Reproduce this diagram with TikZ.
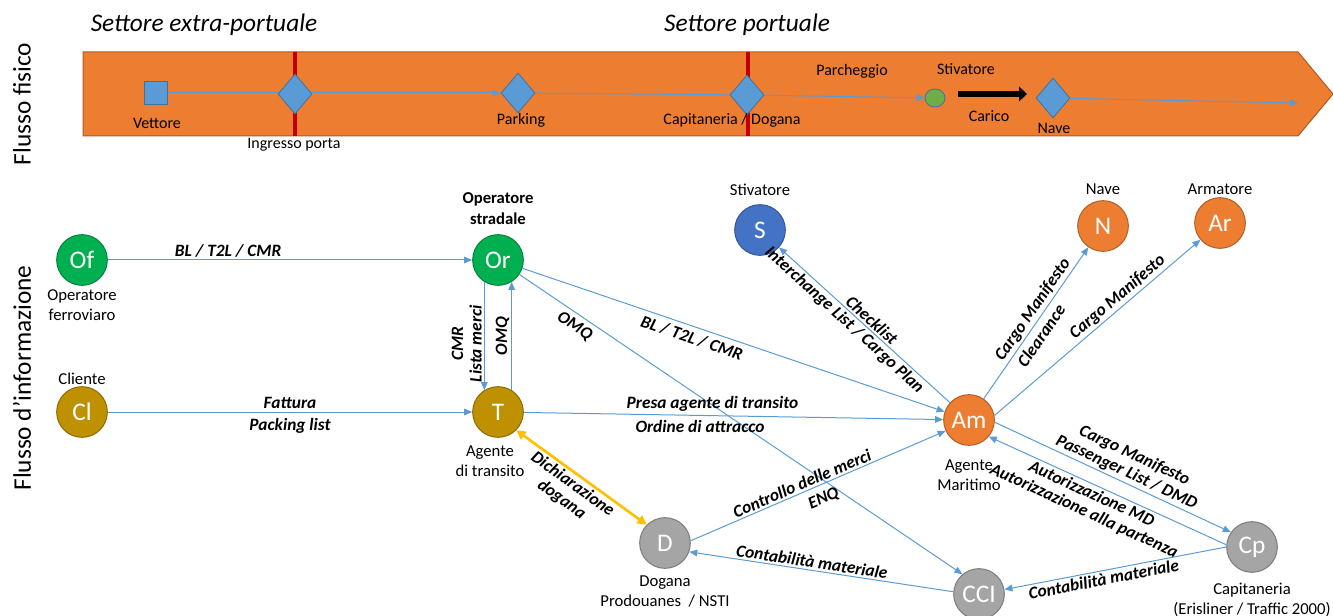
\documentclass[tikz,border=0pt]{standalone}
\usepackage{fontspec}
\setmainfont{Carlito}
\usetikzlibrary{arrows.meta,positioning,shapes.geometric}

\definecolor{arancio}{RGB}{237,125,49}
\definecolor{arancioscuro}{RGB}{174,90,33}
\definecolor{azzurro}{RGB}{91,155,213}
\definecolor{azzurroscuro}{RGB}{65,113,156}
\definecolor{rosso}{RGB}{192,0,0}
\definecolor{verdechiaro}{RGB}{112,173,71}
\definecolor{verde}{RGB}{0,176,80}
\definecolor{ocra}{RGB}{191,144,0}
\definecolor{blu}{RGB}{68,114,196}
\definecolor{grigio}{RGB}{165,165,165}
\definecolor{giallo}{RGB}{255,192,0}

\tikzset{
  attore/.style={circle, minimum size=38pt, inner sep=0pt, line width=0.75pt,
    draw=#1!75!black, fill=#1, text=white, font=\fontsize{19}{19}\selectfont},
  rombo/.style={diamond, minimum width=25.5pt, minimum height=30pt, inner sep=0pt,
    draw=azzurroscuro, fill=azzurro, line width=0.6pt},
  flusso/.style={draw=azzurro, line width=0.75pt, -{Triangle[length=6pt,width=5pt]}},
  fisico/.style={draw=azzurro, line width=0.75pt},
  doganale/.style={draw=giallo, line width=2pt,
    {Triangle[length=7pt,width=7pt]}-{Triangle[length=7pt,width=7pt]}},
  etichetta/.style={font=\fontsize{13}{14}\selectfont\bfseries\itshape, inner sep=1.5pt, align=center},
  didascalia/.style={font=\fontsize{12.5}{15}\selectfont, inner sep=1pt, align=center},
  banda/.style={font=\fontsize{12}{14}\selectfont, inner sep=1pt},
  settore/.style={font=\fontsize{19}{22}\selectfont\itshape, inner sep=0pt},
  titolo/.style={font=\fontsize{19}{22}\selectfont, inner sep=0pt}
}

\begin{document}
\begin{tikzpicture}[x=0.75pt,y=-0.75pt]
\useasboundingbox (0,0) rectangle (1333,616);

%Shape: Banda flusso fisico
\draw [fill=arancio, draw=arancioscuro, line width=0.75pt] (83,52) -- (1298,52) -- (1333,94) -- (1298,136) -- (83,136) -- cycle ;
%Straight Lines: confini di settore
\draw [rosso, line width=3pt] (295,52) -- (295,136) ;
\draw [rosso, line width=3pt] (748,52) -- (748,136) ;

% Text Node
\node [settore] (extra) at (204,25) {Settore extra-portuale};
% Text Node
\node [settore] (portuale) at (747,25) {Settore portuale};
% Text Node
\node [titolo, rotate=90] (flfisico) at (22,104) {Flusso fisico};
% Text Node
\node [titolo, rotate=90] (flinfo) at (22,378) {Flusso d’informazione};

%Shape: elementi del flusso fisico
\node [draw=azzurroscuro, fill=azzurro, line width=0.6pt, minimum size=17pt, inner sep=0pt] (vettore) at (156,93) {};
\node [rombo] (parking) at (518,93) {};
\node [rombo] (capdog) at (747,95) {};
\node [ellipse, draw=azzurroscuro, fill=verdechiaro, line width=0.6pt, minimum width=15pt, minimum height=13.5pt, inner sep=0pt] (stivfis) at (935,98) {};
\node [rombo] (navefis) at (1053,98) {};
\coordinate (fine) at (1298,103);
\coordinate (caricoA) at (958,94);
\coordinate (caricoB) at (1027,94);

%Straight Lines
\draw [flusso] (vettore) -- (parking) ;
\node [rombo] (ingresso) at (295,94) {};
\draw [fisico] (parking) -- (capdog) ;
\draw [flusso] (capdog) -- (stivfis) ;
\draw [flusso] (navefis) -- (fine) ;
\draw [black, line width=5pt, -{Triangle[length=6pt,width=11pt]}] (caricoA) -- (caricoB) ;

% Text Node
\node [banda] (tvettore) at (157,123) {Vettore};
\node [banda] (tingresso) at (294,145) {Ingresso porta};
\node [banda] (tparking) at (521,120) {Parking};
\node [banda] (tcapdog) at (732,120) {Capitaneria / Dogana};
\node [banda] (tparcheggio) at (852,71) {Parcheggio};
\node [banda] (tstiv) at (966,69) {Stivatore};
\node [banda] (tcarico) at (989,116) {Carico};
\node [banda] (tnave) at (1054,128) {Nave};

%Shape: attori del flusso d'informazione
\node [attore=verde] (Of) at (82,260) {Of};
\node [attore=verde] (Or) at (498,260) {Or};
\node [attore=ocra] (Cl) at (82,412) {Cl};
\node [attore=ocra] (T) at (498,412) {T};
\node [attore=blu] (S) at (760,230) {S};
\node [attore=arancio] (N) at (1103,226) {N};
\node [attore=arancio] (Ar) at (1220,223) {Ar};
\node [attore=arancio] (Am) at (969,420) {Am};
\node [attore=grigio] (D) at (665,543) {D};
\node [attore=grigio] (CCI) at (979,594) {CCI};
\node [attore=grigio] (Cp) at (1252,547) {Cp};

% Text Node
\node [didascalia, below=2pt of Of] (tOf) {Operatore\\ferroviaro};
\node [didascalia, above=0pt of Cl] (tCl) {Cliente};
\node [didascalia, above=6pt of Or, font=\fontsize{12.5}{16}\selectfont\bfseries] (tOr) {Operatore\\stradale};
\node [didascalia, below=5pt of T, xshift=-6pt] (tT) {Agente\\di transito};
\node [didascalia, above=5pt of S] (tS) {Stivatore};
\node [didascalia, above=3pt of N] (tN) {Nave};
\node [didascalia, above=1pt of Ar] (tAr) {Armatore};
\node [didascalia, below=9pt of Am] (tAm) {Agente\\Maritimo};
\node [didascalia, below=4pt of D] (tD) {Dogana\\Prodouanes~~/ NSTI};
\node [didascalia, below=6.5pt of Cp] (tCp) {Capitaneria\\(Erisliner / Traffic 2000)};

%Straight Lines: flussi d'informazione
\draw [flusso] (Of) -- node [etichetta, above, pos=0.33] {BL / T2L / CMR} (Or) ;
\draw [flusso] (Cl) -- node [etichetta, above=1pt] {Fattura} node [etichetta, below=3pt] {Packing list} (T) ;
\draw [flusso] (Or.238) -- node [etichetta, rotate=90, anchor=south, pos=0.57] {CMR\\Lista merci} (T.122) ;
\draw [flusso] (T.58) -- node [etichetta, rotate=90, anchor=south, pos=0.5] {OMQ} (Or.302) ;
\draw [flusso] (Or) -- node [etichetta, sloped, below=2pt, pos=0.41] {BL / T2L / CMR} (Am) ;
\draw [flusso] (Or) -- node [etichetta, sloped, below=2pt, pos=0.14] {OMQ} (CCI.130) ;
\draw [flusso] (T) -- node [etichetta, above=1pt, pos=0.45] {Presa agente di transito} node [etichetta, below=2pt, pos=0.42] {Ordine di attracco} (Am) ;
\draw [flusso] (Am) -- node [etichetta, sloped, above, pos=0.49] {Checklist} node [etichetta, sloped, below, pos=0.58] {Interchange List / Cargo Plan} (S) ;
\draw [flusso] (Am) -- node [etichetta, sloped, above, pos=0.55] {Cargo Manifesto} node [etichetta, sloped, below=2pt, pos=0.46] {Clearance} (N) ;
\draw [flusso] (Am.10) -- node [etichetta, sloped, above, pos=0.63] {Cargo Manifesto} (Ar) ;
\draw [flusso] (Am.-5) -- node [etichetta, sloped, above, pos=0.54] {Cargo Manifesto\\Passenger List / DMD} (Cp.145) ;
\draw [flusso] (Cp.175) -- node [etichetta, sloped, below, pos=0.55] {Autorizzazione MD\\Autorizzazione alla partenza} (Am.-40) ;
\draw [flusso] (Cp.west) -- node [etichetta, sloped, below, pos=0.56] {Contabilità materiale} (CCI.10) ;
\draw [flusso] (CCI.175) -- node [etichetta, sloped, above, pos=0.54] {Contabilità materiale} (D.-20) ;
\draw [flusso] (D.5) -- node [etichetta, sloped, above, pos=0.45] {Controllo delle merci} node [etichetta, sloped, below=3.5pt, pos=0.5] {ENQ} (Am.205) ;
\draw [doganale] (T.-45) -- node [etichetta, sloped, below, pos=0.48] {Dichiarazione\\dogana} (D.135) ;
\end{tikzpicture}
\end{document}
